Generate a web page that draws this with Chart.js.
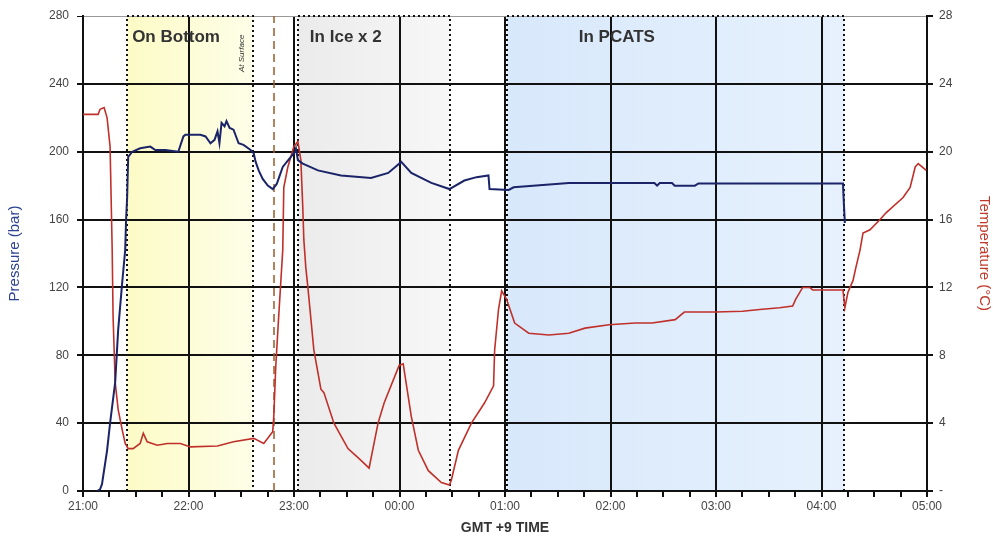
<!DOCTYPE html>
<html>
<head>
<meta charset="utf-8">
<script src="https://cdn.jsdelivr.net/npm/chart.js@4.4.1/dist/chart.umd.min.js"></script>
<style>
  html, body { margin: 0; padding: 0; background: #fff; }
  #wrap { width: 993px; height: 537px; }
</style>
</head>
<body>
<div id="wrap"><canvas id="gmtChart"></canvas></div>
<script>
// time is in minutes after 21:00
var pressureTimes = [8.0, 9.7, 10.8, 13.7, 15.4, 18.3, 20.0, 22.3, 24.0, 24.5, 25.1, 25.7, 28.0, 32.5, 38.3, 41.1, 46.8, 54.2, 57.1, 58.2,
    66.8, 69.7, 72.5, 74.8, 76.5, 77.6, 78.8, 80.5, 81.6, 83.4, 85.6, 88.5, 91.3, 95.3, 97.1, 98.2, 99.9, 102.2, 105.1, 107.9,
    110.2, 113.6, 118.2, 120.5, 121.1, 122.2, 125.0, 133.6, 146.7, 163.8, 173.6, 181.0, 186.7, 198.1, 208.4, 216.9, 223.8, 230.6, 231.2, 242.1,
    244.9, 276.3, 325.0, 326.5, 328.0, 335.0, 336.5, 338.0, 348.0, 350.0, 432.2, 432.7, 433.3];
var pressureValues = [0, 1, 4, 24, 40, 64, 95, 123, 142, 160, 173, 197, 200, 202, 203, 201, 201, 200, 209, 210,
    210, 209, 205, 207, 212, 205, 217, 215, 218, 214, 213, 205, 204, 201, 199, 194, 189, 184, 180, 178,
    181, 191, 197, 200, 202, 195, 193, 189, 186, 184.5, 187.5, 194, 187.5, 181.6, 178, 183, 185, 186, 178, 177.5,
    179, 181.6, 181.6, 180, 181.6, 181.6, 180, 180, 180, 181.3, 181.3, 170, 158];

var tempTimes = [0, 8.6, 9.7, 12.0, 13.7, 15.4, 16.6, 17.1, 18.3, 20.0, 22.3, 24.0, 25.7, 28.5, 32.5, 34.3, 36.5, 42.2, 48.0, 55.4,
    61.1, 76.5, 85.6, 97.1, 102.8, 107.9, 108.5, 109.6, 111.3, 113.6, 114.2, 116.5, 119.9, 122.2, 123.9, 125.0, 125.6, 126.7, 127.9, 131.3,
    135.3, 137.0, 142.7, 150.7, 158.1, 162.7, 167.8, 171.3, 179.8, 182.1, 186.7, 190.7, 196.4, 203.8, 208.4, 209.5, 213.5, 220.9, 228.4, 233.5,
    234.1, 236.3, 238.1, 240.9, 245.5, 253.5, 264.9, 276.3, 285.5, 299.2, 314.0, 323.7, 336.8, 342.0, 359.7, 375.1, 384.8, 396.2, 403.6, 405.3,
    409.3, 413.3, 415.0, 432.2, 433.3, 435.0, 437.9, 439.6, 441.9, 443.6, 447.6, 453.3, 456.7, 466.4, 470.4, 473.3, 475.0, 479.6];
var tempValues = [22.2, 22.2, 22.5, 22.6, 22.0, 20.3, 14.2, 10.3, 6.4, 4.8, 3.6, 2.8, 2.5, 2.5, 2.8, 3.4, 2.9, 2.7, 2.8, 2.8,
    2.6, 2.65, 2.9, 3.1, 2.8, 3.5, 4.4, 7.3, 10.3, 14.2, 17.9, 19.1, 20.3, 20.6, 19.5, 16.7, 14.8, 13.2, 12.0, 8.3,
    6.0, 5.8, 4.0, 2.5, 1.8, 1.35, 4.0, 5.2, 7.4, 7.5, 4.4, 2.4, 1.2, 0.5, 0.35, 0.65, 2.4, 4.0, 5.2, 6.2,
    8.3, 10.7, 11.8, 11.3, 9.9, 9.3, 9.2, 9.3, 9.6, 9.8, 9.9, 9.9, 10.1, 10.55, 10.55, 10.6, 10.7, 10.8, 10.9, 11.3,
    12.0, 12.0, 11.85, 11.85, 10.8, 11.7, 12.4, 13.2, 14.2, 15.2, 15.4, 16.0, 16.4, 17.3, 17.9, 19.1, 19.3, 18.9];

var regionLabels = ['On Bottom', 'In Ice x 2', 'In PCATS'];
var regionStarts = [25.1, 122.2, 241.0];
var regionEnds = [96.5, 209.0, 433.0];
var surfaceTime = 108.5;
var surfaceLabel = 'At Surface';

var pressureTicks = [0, 40, 80, 120, 160, 200, 240, 280];
var tempTicks = [0, 4, 8, 12, 16, 20, 24, 28];

var regionColors = [['#fcfbc6', '#fefee8'], ['#ebebeb', '#f7f7f7'], ['#d8e8fb', '#e6f1fd']];
var labelOffsets = [5, 12, 72];

function toPoints(xs, ys) {
    var pts = [];
    for (var i = 0; i < xs.length; i++) pts.push({ x: xs[i], y: ys[i] });
    return pts;
}

function hourLabel(v) {
    var h = (21 + Math.round(v / 60)) % 24;
    return (h < 10 ? '0' : '') + h + ':00';
}

var regionPlugin = {
    id: 'regions',
    beforeDraw: function (chart) {
        var ctx = chart.ctx, a = chart.chartArea, x = chart.scales.x;
        ctx.save();
        ctx.fillStyle = '#fff';
        ctx.fillRect(0, 0, chart.width, chart.height);
        for (var i = 0; i < regionStarts.length; i++) {
            var x0 = x.getPixelForValue(regionStarts[i]);
            var x1 = x.getPixelForValue(regionEnds[i]);
            var g = ctx.createLinearGradient(x0, 0, x1, 0);
            g.addColorStop(0, regionColors[i][0]);
            g.addColorStop(1, regionColors[i][1]);
            ctx.fillStyle = g;
            ctx.fillRect(x0, a.top, x1 - x0, a.bottom - a.top);
        }
        ctx.restore();
    },
    beforeDatasetsDraw: function (chart) {
        var ctx = chart.ctx, a = chart.chartArea, x = chart.scales.x, y = chart.scales.y;
        ctx.save();
        ctx.strokeStyle = '#111';
        ctx.lineWidth = 2;
        ctx.setLineDash([2, 3]);
        for (var i = 0; i < regionStarts.length; i++) {
            var x0 = Math.round(x.getPixelForValue(regionStarts[i]));
            var x1 = Math.round(x.getPixelForValue(regionEnds[i]));
            ctx.beginPath();
            ctx.moveTo(x0, a.bottom);
            ctx.lineTo(x0, a.top);
            ctx.lineTo(x1, a.top);
            ctx.lineTo(x1, a.bottom);
            ctx.stroke();
        }
        // at surface marker
        var xs = Math.round(x.getPixelForValue(surfaceTime));
        ctx.strokeStyle = '#9b5a2a';
        ctx.lineWidth = 1.5;
        ctx.setLineDash([8, 5]);
        ctx.beginPath();
        ctx.moveTo(xs, a.bottom);
        ctx.lineTo(xs, a.top);
        ctx.stroke();
        ctx.setLineDash([]);

        ctx.fillStyle = '#333';
        ctx.font = 'bold 17px "Liberation Sans", Arial, sans-serif';
        ctx.textBaseline = 'middle';
        ctx.textAlign = 'left';
        for (var j = 0; j < regionLabels.length; j++) {
            ctx.fillText(regionLabels[j], x.getPixelForValue(regionStarts[j]) + labelOffsets[j], a.top + 21);
        }
        ctx.save();
        ctx.translate(x.getPixelForValue(90.5), y.getPixelForValue(258));
        ctx.rotate(-Math.PI / 2);
        ctx.font = 'italic 8px "Liberation Sans", Arial, sans-serif';
        ctx.textAlign = 'center';
        ctx.fillText(surfaceLabel, 0, 0);
        ctx.restore();
        ctx.restore();
    }
};

var tickFont = { family: '"Liberation Sans", Arial, sans-serif', size: 12 };

var chart = new Chart(document.getElementById('gmtChart'), {
    type: 'line',
    data: {
        datasets: [{
            label: 'Pressure',
            data: toPoints(pressureTimes, pressureValues),
            borderColor: '#1b2468',
            borderWidth: 2,
            pointRadius: 0,
            tension: 0,
            yAxisID: 'y'
        }, {
            label: 'Temperature',
            data: toPoints(tempTimes, tempValues),
            borderColor: '#c0302a',
            borderWidth: 1.6,
            pointRadius: 0,
            tension: 0,
            yAxisID: 'y1'
        }]
    },
    options: {
        responsive: true,
        maintainAspectRatio: false,
        animation: false,
        layout: { padding: { top: 16, left: 0, right: 0, bottom: 0 } },
        plugins: { legend: { display: false }, tooltip: { enabled: false } },
        scales: {
            x: {
                type: 'linear',
                min: 0,
                max: 480,
                afterBuildTicks: function (axis) {
                    var t = [];
                    for (var v = 0; v <= 480; v += 15) t.push({ value: v });
                    axis.ticks = t;
                },
                afterFit: function (axis) { axis.height = 46; },
                ticks: {
                    autoSkip: false,
                    maxRotation: 0,
                    color: '#444',
                    font: tickFont,
                    padding: 2,
                    callback: function (v) { return v % 60 === 0 ? hourLabel(v) : ''; }
                },
                grid: {
                    color: function (c) { return c.tick && c.tick.value % 60 === 0 ? '#111' : 'rgba(0,0,0,0)'; },
                    tickColor: '#111',
                    lineWidth: 2,
                    tickLength: 6
                },
                border: { color: '#111', width: 2 },
                title: {
                    display: true,
                    text: 'GMT +9 TIME',
                    color: '#333',
                    font: { family: '"Liberation Sans", Arial, sans-serif', size: 14, weight: 'bold' },
                    padding: { top: 0, bottom: 0 }
                }
            },
            y: {
                position: 'left',
                min: 0,
                max: 280,
                afterBuildTicks: function (axis) {
                    axis.ticks = pressureTicks.map(function (v) { return { value: v }; });
                },
                afterFit: function (axis) { axis.width = 83; },
                ticks: { color: '#444', font: tickFont, padding: 8 },
                grid: {
                    color: function (c) { return c.tick && c.tick.value === 280 ? '#999' : '#111'; },
                    lineWidth: function (c) { return c.tick && c.tick.value === 280 ? 1 : 2; },
                    tickColor: '#111',
                    tickLength: 6
                },
                border: { color: '#111', width: 2 },
                title: {
                    display: true,
                    text: 'Pressure (bar)',
                    color: '#2e4391',
                    font: { family: '"Liberation Sans", Arial, sans-serif', size: 15 },
                    padding: { top: 6, bottom: 0 }
                }
            },
            y1: {
                position: 'right',
                min: 0,
                max: 28,
                afterBuildTicks: function (axis) {
                    axis.ticks = tempTicks.map(function (v) { return { value: v }; });
                },
                afterFit: function (axis) { axis.width = 66; },
                ticks: {
                    color: '#444',
                    font: tickFont,
                    padding: 6,
                    callback: function (v) { return v === 0 ? '-' : v; }
                },
                grid: { drawOnChartArea: false, tickColor: '#111', tickLength: 6, lineWidth: 2 },
                border: { color: '#111', width: 2 },
                title: {
                    display: true,
                    text: 'Temperature (°C)',
                    color: '#c0392b',
                    font: { family: '"Liberation Sans", Arial, sans-serif', size: 15 },
                    padding: { top: 0, bottom: 2 }
                }
            }
        }
    },
    plugins: [regionPlugin]
});
</script>
</body>
</html>
